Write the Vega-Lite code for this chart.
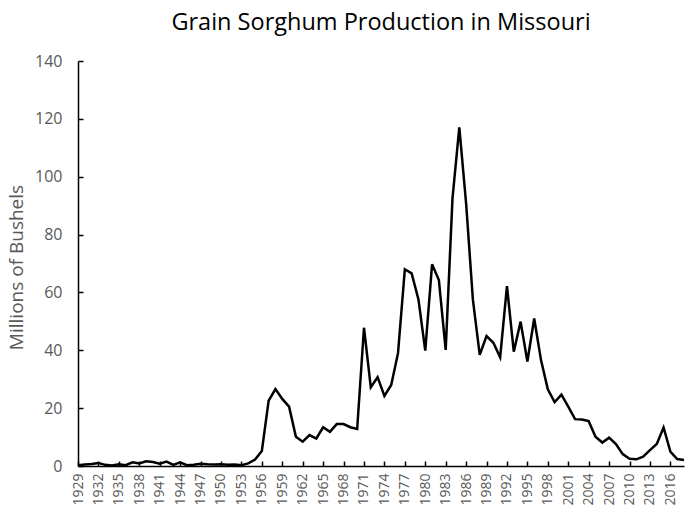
{
  "$schema": "https://vega.github.io/schema/vega-lite/v6.json",
  "width": 606,
  "height": 405,
  "autosize": {"type": "none"},
  "padding": {"left": 78, "top": 61, "right": 14, "bottom": 52},
  "background": "white",
  "title": {
    "text": "Grain Sorghum Production in Missouri",
    "font": "Open Sans",
    "fontSize": 23.5,
    "fontWeight": "normal",
    "color": "#000000",
    "anchor": "middle",
    "offset": 0,
    "baseline": "alphabetic"
  },
  "config": {
    "view": {"stroke": null},
    "axis": {"grid": false, "domainColor": "#000000", "tickColor": "#000000", "domainWidth": 1.5, "tickWidth": 1.5, "labelColor": "#595959", "titleColor": "#595959", "labelFont": "Open Sans", "titleFont": "Open Sans", "titleFontWeight": "normal"}
  },
  "data": {
    "values": [
      {"year": 1929, "value": 0.3}, {"year": 1930, "value": 0.5}, {"year": 1931, "value": 0.7},
      {"year": 1932, "value": 1.0}, {"year": 1933, "value": 0.4}, {"year": 1934, "value": 0.2},
      {"year": 1935, "value": 0.6}, {"year": 1936, "value": 0.3}, {"year": 1937, "value": 1.3},
      {"year": 1938, "value": 0.9}, {"year": 1939, "value": 1.6}, {"year": 1940, "value": 1.4},
      {"year": 1941, "value": 0.8}, {"year": 1942, "value": 1.5}, {"year": 1943, "value": 0.4},
      {"year": 1944, "value": 1.3}, {"year": 1945, "value": 0.3}, {"year": 1946, "value": 0.4},
      {"year": 1947, "value": 0.8}, {"year": 1948, "value": 0.6}, {"year": 1949, "value": 0.5},
      {"year": 1950, "value": 0.6}, {"year": 1951, "value": 0.4}, {"year": 1952, "value": 0.5},
      {"year": 1953, "value": 0.3}, {"year": 1954, "value": 0.9}, {"year": 1955, "value": 2.2},
      {"year": 1956, "value": 5.2}, {"year": 1957, "value": 22.6}, {"year": 1958, "value": 26.6},
      {"year": 1959, "value": 23.2}, {"year": 1960, "value": 20.5}, {"year": 1961, "value": 10.1},
      {"year": 1962, "value": 8.4}, {"year": 1963, "value": 10.7}, {"year": 1964, "value": 9.5},
      {"year": 1965, "value": 13.4}, {"year": 1966, "value": 11.8}, {"year": 1967, "value": 14.5},
      {"year": 1968, "value": 14.5}, {"year": 1969, "value": 13.4}, {"year": 1970, "value": 12.8},
      {"year": 1971, "value": 47.8}, {"year": 1972, "value": 27.2}, {"year": 1973, "value": 30.7},
      {"year": 1974, "value": 24.2}, {"year": 1975, "value": 28.0}, {"year": 1976, "value": 39.0},
      {"year": 1977, "value": 68.0}, {"year": 1978, "value": 66.6}, {"year": 1979, "value": 57.6},
      {"year": 1980, "value": 39.9}, {"year": 1981, "value": 69.7}, {"year": 1982, "value": 64.3},
      {"year": 1983, "value": 40.1}, {"year": 1984, "value": 92.5}, {"year": 1985, "value": 117.1},
      {"year": 1986, "value": 90.8}, {"year": 1987, "value": 57.4}, {"year": 1988, "value": 38.4},
      {"year": 1989, "value": 44.9}, {"year": 1990, "value": 42.6}, {"year": 1991, "value": 37.6},
      {"year": 1992, "value": 62.2}, {"year": 1993, "value": 39.5}, {"year": 1994, "value": 49.9},
      {"year": 1995, "value": 36.1}, {"year": 1996, "value": 51.0}, {"year": 1997, "value": 36.6},
      {"year": 1998, "value": 26.5}, {"year": 1999, "value": 22.1}, {"year": 2000, "value": 24.7},
      {"year": 2001, "value": 20.5}, {"year": 2002, "value": 16.2}, {"year": 2003, "value": 16.1},
      {"year": 2004, "value": 15.5}, {"year": 2005, "value": 10.1}, {"year": 2006, "value": 8.1},
      {"year": 2007, "value": 9.8}, {"year": 2008, "value": 7.6}, {"year": 2009, "value": 4.1},
      {"year": 2010, "value": 2.5}, {"year": 2011, "value": 2.3}, {"year": 2012, "value": 3.2},
      {"year": 2013, "value": 5.5}, {"year": 2014, "value": 7.6}, {"year": 2015, "value": 13.3},
      {"year": 2016, "value": 5.0}, {"year": 2017, "value": 2.4}, {"year": 2018, "value": 2.1}
    ]
  },
  "mark": {"type": "line", "color": "#000000", "strokeWidth": 2.5, "strokeJoin": "miter"},
  "encoding": {
    "x": {
      "field": "year",
      "type": "quantitative",
      "scale": {"domain": [1929, 2018], "nice": false, "zero": false},
      "axis": {
        "title": null,
        "values": [1929, 1932, 1935, 1938, 1941, 1944, 1947, 1950, 1953, 1956, 1959, 1962, 1965, 1968, 1971, 1974, 1977, 1980, 1983, 1986, 1989, 1992, 1995, 1998, 2001, 2004, 2007, 2010, 2013, 2016],
        "format": "d",
        "labelAngle": -90,
        "labelFontSize": 14,
        "tickSize": -5,
        "labelPadding": 12,
        "labelOverlap": false,
        "labelFlush": false
      }
    },
    "y": {
      "field": "value",
      "type": "quantitative",
      "scale": {"domain": [0, 140], "nice": false},
      "axis": {
        "title": "Millions of Bushels",
        "values": [0, 20, 40, 60, 80, 100, 120, 140],
        "labelFontSize": 16,
        "titleFontSize": 19,
        "titleY": 206,
        "tickSize": -5,
        "labelPadding": 21,
        "titlePadding": 8
      }
    }
  }
}
